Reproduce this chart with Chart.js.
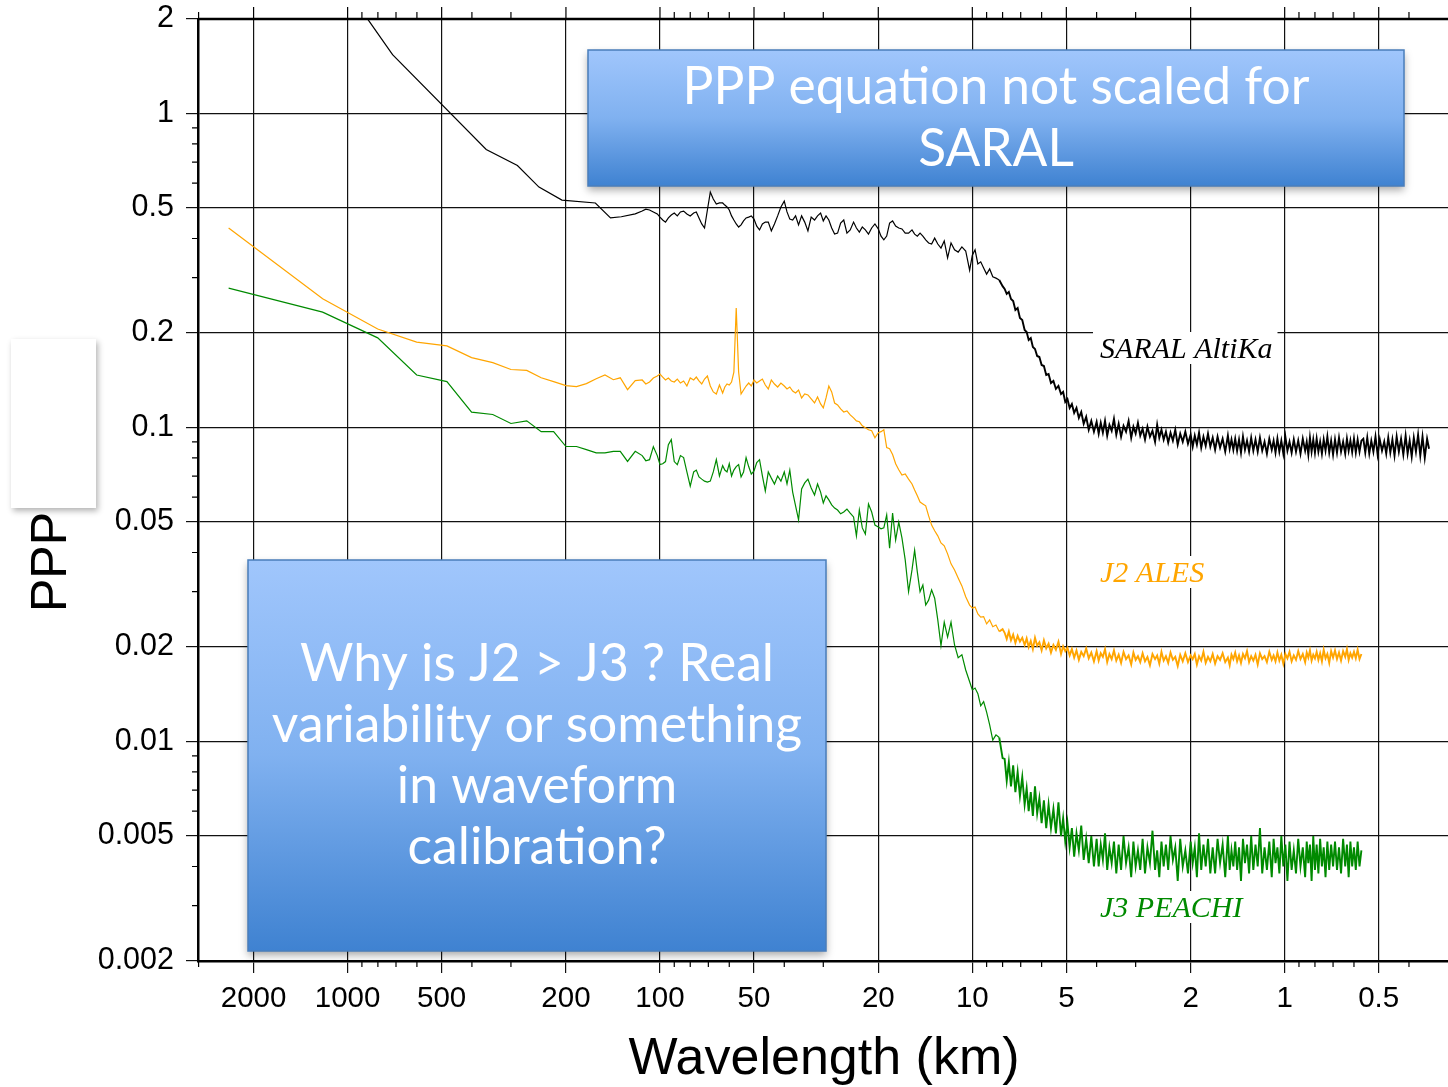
<!DOCTYPE html>
<html>
<head>
<meta charset="utf-8">
<title>PPP vs wavelength</title>
<script src="https://cdn.jsdelivr.net/npm/chart.js@4.4.1/dist/chart.umd.min.js"></script>
<style>
  html, body { margin: 0; padding: 0; background: #fff; }
  #wrap { position: relative; width: 1448px; height: 1087px; }
</style>
</head>
<body>
<div id="wrap"><canvas id="ppp"></canvas></div>
<script>
// wavelength grids (km)
const jasonLowWl = [2404, 1202, 801, 601, 481, 401, 343, 300, 267, 240, 219, 200, 185, 172, 160, 150, 141, 134, 127, 120];
const saralLowWl = [1060, 857, 718, 360, 286, 244, 206, 161, 144, 133, 120];
const midWl = [114, 111, 108, 105, 102, 100, 98, 96, 94, 92,
  90, 88, 86, 84, 82, 80, 78, 76.5, 75, 73.5,
  72, 70.5, 69, 67.5, 66, 64.5, 63, 62, 61, 60,
  59, 58, 57, 56, 55, 54, 53, 52, 51, 50,
  49, 48, 47, 46, 45, 44, 43, 42, 41, 40,
  39.2, 38.4, 37.6, 36.8, 36, 35.2, 34.4, 33.6, 32.8, 32,
  31.3, 30.6, 30, 29.4, 28.8, 28.2, 27.6, 27, 26.4, 25.8,
  25.2, 24.6, 24, 23.5, 23, 22.5, 22, 21.5, 21, 20.5,
  20, 19.6, 19.2, 18.8, 18.4, 18, 17.6, 17.2, 16.8, 16.4,
  16, 15.6, 15.3, 15, 14.7, 14.4, 14.1, 13.8, 13.5, 13.2,
  12.9, 12.6, 12.3, 12, 11.7, 11.4, 11.1, 10.8, 10.5, 10.2,
  10, 9.8, 9.6, 9.4, 9.2, 9, 8.8, 8.6, 8.4, 8.2,
  8];
const tailWl = [7.88, 7.76, 7.64, 7.52, 7.4, 7.28, 7.16, 7.04, 6.92, 6.8,
  6.7, 6.6, 6.5, 6.4, 6.3, 6.2, 6.1, 6, 5.9, 5.8,
  5.7, 5.6, 5.5, 5.4, 5.3, 5.2, 5.12, 5.04, 4.96, 4.88,
  4.8, 4.72, 4.64, 4.56, 4.48, 4.4, 4.32, 4.24, 4.16, 4.08,
  4, 3.94, 3.88, 3.82, 3.76, 3.7, 3.64, 3.58, 3.52, 3.46,
  3.4, 3.34, 3.28, 3.22, 3.16, 3.1, 3.05, 3, 2.95, 2.9,
  2.85, 2.8, 2.75, 2.7, 2.65, 2.6, 2.56, 2.52, 2.48, 2.44,
  2.4, 2.36, 2.32, 2.28, 2.24, 2.2, 2.16, 2.12, 2.08, 2.04,
  2, 1.97, 1.94, 1.91, 1.88, 1.85, 1.82, 1.79, 1.76, 1.73,
  1.7, 1.67, 1.64, 1.61, 1.58, 1.55, 1.52, 1.5, 1.48, 1.46,
  1.44, 1.42, 1.4, 1.38, 1.36, 1.34, 1.32, 1.3, 1.28, 1.26,
  1.24, 1.22, 1.2, 1.18, 1.16, 1.14, 1.12, 1.1, 1.085, 1.07,
  1.055, 1.04, 1.025, 1.01, 0.995, 0.98, 0.965, 0.95, 0.935, 0.92,
  0.905, 0.89, 0.875, 0.86, 0.85, 0.84, 0.83, 0.82, 0.81, 0.8,
  0.79, 0.78, 0.77, 0.76, 0.75, 0.74, 0.73, 0.72, 0.71, 0.7,
  0.69, 0.68, 0.67, 0.66, 0.65, 0.64, 0.632, 0.624, 0.616, 0.608,
  0.6, 0.592, 0.584, 0.576, 0.568];
const saralShortWl = [0.56, 0.552, 0.544, 0.536, 0.528, 0.52, 0.512, 0.504, 0.496, 0.488,
  0.48, 0.473, 0.466, 0.459, 0.452, 0.445, 0.438, 0.431, 0.424, 0.417,
  0.41, 0.404, 0.398, 0.392, 0.386, 0.38, 0.374, 0.368, 0.362, 0.356,
  0.35, 0.345];

// SARAL AltiKa
const saralLow = [2.67, 1.98, 1.54, 0.768, 0.683, 0.583, 0.530, 0.519, 0.465, 0.469, 0.479];
const saralMid = [.489, .496, .493, .486, .479, .468, .458, .451, .465, .475,
  .482, .472, .486, .489, .479, .472, .482, .486, .465, .445,
  .432, .493, .562, .534, .515, .519, .519, .511, .504, .493,
  .472, .458, .445, .435, .442, .455, .465, .468, .472, .461,
  .438, .426, .445, .451, .451, .423, .445, .472, .504, .526,
  .486, .461, .458, .472, .442, .472, .451, .423, .468, .458,
  .472, .482, .455, .472, .458, .432, .413, .416, .448, .458,
  .416, .426, .451, .432, .419, .435, .426, .413, .432, .445,
  .429, .407, .396, .407, .448, .455, .438, .432, .429, .416,
  .416, .426, .413, .407, .416, .407, .396, .387, .384, .401,
  .384, .373, .393, .347, .387, .368, .362, .376, .365, .317,
  .354, .368, .332, .337, .322, .308, .320, .302, .299, .295,
  .282];
const saralTail = [.2762, .2664, .2703, .2567, .2529, .2367, .2402, .2233, .2200, .2044,
  .2015, .1900, .1928, .1805, .1779, .1690, .1677, .1582, .1570, .1470,
  .1480, .1386, .1407, .1327, .1356, .1279, .1298, .1206, .1233, .1155,
  .1189, .1113, .1155, .1073, .1121, .1028, .1081, .0984, .1050, .0970,
  .1043, .0956, .1035, .0963, .1050, .0942, .1020, .0977, .1066, .0949,
  .1028, .0935, .1013, .0970, .1050, .0928, .1006, .0956, .1035, .0942,
  .0991, .0915, .1006, .0935, .0977, .0901, .1020, .0928, .0984, .0915,
  .0970, .0895, .0963, .0908, .0984, .0882, .0956, .0901, .0970, .0888,
  .0949, .0869, .0942, .0882, .0963, .0863, .0935, .0875, .0956, .0869,
  .0928, .0850, .0935, .0863, .0921, .0838, .0942, .0856, .0915, .0850,
  .0921, .0844, .0915, .0832, .0935, .0850, .0908, .0838, .0928, .0844,
  .0915, .0838, .0928, .0844, .0901, .0826, .0921, .0850, .0908, .0832,
  .0921, .0838, .0908, .0826, .0935, .0844, .0901, .0832, .0915, .0838,
  .0908, .0826, .0921, .0844, .0901, .0820, .0928, .0838, .0915, .0832,
  .0921, .0838, .0901, .0826, .0915, .0844, .0935, .0832, .0908, .0820,
  .0915, .0832, .0928, .0838, .0901, .0826, .0921, .0844, .0908, .0835,
  .0921, .0832, .0915, .0838, .0908];
const saralShort = [.0921, .0832, .0928, .0826, .0908, .0838, .0935, .0820, .0915, .0844,
  .0901, .0826, .0928, .0832, .0915, .0814, .0935, .0838, .0921, .0820,
  .0942, .0826, .0908, .0808, .0928, .0838, .0949, .0814, .0935, .0802,
  .0921, .0856];

// J2 ALES
const j2Low = [0.432, 0.257, 0.206, 0.187, 0.182, 0.167, 0.161, 0.153, 0.152, 0.144, 0.140, 0.136, 0.135, 0.138, 0.143, 0.147, 0.142, 0.144, 0.132, 0.141];
const j2Mid = [.1417, .1376, .1396, .1438, .1459, .1480, .1448, .1417, .1438, .1407,
  .1396, .1427, .1386, .1407, .1356, .1438, .1417, .1448, .1407, .1376,
  .1427, .1459, .1356, .1298, .1279, .1366, .1288, .1346, .1376, .1366,
  .1396, .1502, .2402, .1502, .1279, .1317, .1356, .1386, .1356, .1417,
  .1386, .1407, .1427, .1366, .1327, .1417, .1376, .1346, .1386, .1356,
  .1327, .1346, .1307, .1288, .1317, .1242, .1279, .1270, .1233, .1197,
  .1251, .1189, .1155, .1242, .1356, .1298, .1197, .1180, .1146, .1121,
  .1130, .1097, .1073, .1050, .1043, .1013, .0998, .0984, .0977, .0928,
  .0963, .0970, .0984, .0863, .0856, .0820, .0767, .0734, .0706, .0711,
  .0685, .0661, .0632, .0606, .0579, .0571, .0563, .0523, .0489, .0469,
  .0452, .0429, .0420, .0396, .0368, .0352, .0332, .0313, .0289, .0272,
  .0266, .0268, .0255, .0249, .0250, .0237, .0244, .0232, .0235, .0224,
  .0228];
const j2Tail = [.0222, .0212, .0224, .0210, .0219, .0206, .0217, .0208, .0214, .0203,
  .0213, .0200, .0209, .0197, .0214, .0202, .0207, .0195, .0210, .0198,
  .0205, .0192, .0203, .0196, .0208, .0190, .0201, .0194, .0199, .0188,
  .0197, .0185, .0195, .0182, .0193, .0187, .0198, .0184, .0192, .0180,
  .0194, .0181, .0191, .0186, .0197, .0179, .0190, .0183, .0195, .0181,
  .0189, .0178, .0193, .0183, .0188, .0176, .0192, .0182, .0187, .0179,
  .0191, .0180, .0186, .0175, .0190, .0183, .0188, .0177, .0193, .0181,
  .0187, .0178, .0192, .0182, .0186, .0174, .0189, .0180, .0191, .0179,
  .0188, .0183, .0190, .0176, .0187, .0181, .0193, .0178, .0186, .0180,
  .0190, .0177, .0187, .0182, .0191, .0179, .0185, .0175, .0189, .0183,
  .0192, .0180, .0188, .0178, .0190, .0184, .0194, .0179, .0187, .0181,
  .0189, .0176, .0191, .0183, .0187, .0179, .0193, .0182, .0188, .0180,
  .0192, .0181, .0189, .0177, .0190, .0184, .0193, .0180, .0188, .0182,
  .0194, .0183, .0190, .0179, .0192, .0185, .0195, .0181, .0189, .0184,
  .0193, .0182, .0191, .0180, .0196, .0184, .0190, .0178, .0194, .0185,
  .0195, .0183, .0192, .0181, .0194, .0186, .0197, .0182, .0191, .0185,
  .0193, .0184, .0196, .0183, .0190];

// J3 PEACHI
const j3Low = [0.278, 0.233, 0.193, 0.147, 0.140, 0.112, 0.110, 0.103, 0.105, 0.097, 0.097, 0.087, 0.087, 0.085, 0.083, 0.083, 0.084, 0.084, 0.078, 0.084];
const j3Mid = [.0814, .0784, .0790, .0869, .0814, .0762, .0767, .0779, .0882, .0915,
  .0779, .0762, .0814, .0802, .0722, .0651, .0722, .0732, .0696, .0685,
  .0675, .0670, .0675, .0722, .0790, .0701, .0756, .0732, .0722, .0767,
  .0701, .0732, .0751, .0762, .0696, .0722, .0802, .0751, .0711, .0727,
  .0773, .0790, .0701, .0628, .0722, .0690, .0661, .0701, .0675, .0722,
  .0661, .0732, .0623, .0563, .0508, .0637, .0666, .0685, .0642, .0610,
  .0661, .0623, .0575, .0606, .0588, .0567, .0554, .0546, .0531, .0538,
  .0550, .0534, .0519, .0452, .0546, .0479, .0458, .0571, .0538, .0489,
  .0482, .0476, .0479, .0527, .0413, .0534, .0438, .0500, .0445, .0379,
  .0300, .0352, .0407, .0347, .0300, .0315, .0272, .0282, .0304, .0286,
  .0244, .0202, .0240, .0215, .0240, .0203, .0185, .0189, .0169, .0155,
  .0146, .0148, .0142, .0130, .0134, .0124, .0113, .0101, .0105, .0103,
  .00886];
const j3Tail = [.0088, .0075, .0086, .0072, .0084, .0069, .0080, .0067, .0077, .0063,
  .0071, .0060, .0069, .0058, .0072, .0059, .0066, .0055, .0065, .0053,
  .0063, .0053, .0061, .0051, .0064, .0050, .0057, .0048, .0055, .0046,
  .0053, .0043, .0051, .0045, .0054, .0042, .0049, .0041, .0050, .0040,
  .0049, .0040, .0047, .0042, .0051, .0039, .0046, .0041, .0048, .0038,
  .0047, .0039, .0050, .0041, .0046, .0037, .0048, .0040, .0045, .0039,
  .0049, .0038, .0046, .0041, .0052, .0039, .0045, .0037, .0048, .0040,
  .0047, .0039, .0050, .0042, .0046, .0036, .0049, .0040, .0045, .0038,
  .0048, .0041, .0046, .0037, .0051, .0039, .0047, .0040, .0049, .0038,
  .0046, .0038, .0049, .0041, .0047, .0037, .0050, .0039, .0045, .0040,
  .0048, .0039, .0046, .0036, .0049, .0041, .0047, .0038, .0050, .0039,
  .0047, .0040, .0053, .0038, .0046, .0039, .0048, .0037, .0049, .0041,
  .0046, .0038, .0050, .0040, .0047, .0036, .0048, .0039, .0045, .0038,
  .0049, .0040, .0046, .0037, .0048, .0041, .0047, .0036, .0050, .0039,
  .0047, .0038, .0049, .0040, .0046, .0037, .0048, .0039, .0047, .0040,
  .0048, .0039, .0046, .0038, .0049, .0040, .0047, .0037, .0048, .0040,
  .0046, .0039, .0048, .0040, .0045];

// ticks
const xMajor = [2000, 1000, 500, 200, 100, 50, 20, 10, 5, 2, 1, 0.5];
const xMinor = [3000, 900, 800, 700, 600, 400, 300, 90, 80, 70, 60, 40, 30, 9, 8, 7, 6, 4, 3, 0.9, 0.8, 0.7, 0.6, 0.4];
const yMajor = [2, 1, 0.5, 0.2, 0.1, 0.05, 0.02, 0.01, 0.005, 0.002];
const yMinor = [0.9, 0.8, 0.7, 0.6, 0.4, 0.3, 0.09, 0.08, 0.07, 0.06, 0.04, 0.03, 0.009, 0.008, 0.007, 0.006, 0.004, 0.003];

function zip(wl, vals) {
  const n = Math.min(wl.length, vals.length);
  const out = [];
  for (let i = 0; i < n; i++) out.push({ x: wl[i], y: vals[i] });
  return out;
}

const saralPts = zip([...saralLowWl, ...midWl, ...tailWl, ...saralShortWl], [...saralLow, ...saralMid, ...saralTail, ...saralShort]);
const j2Pts = zip([...jasonLowWl, ...midWl, ...tailWl], [...j2Low, ...j2Mid, ...j2Tail]);
const j3Pts = zip([...jasonLowWl, ...midWl, ...tailWl], [...j3Low, ...j3Mid, ...j3Tail]);

const ORANGE = '#ffa500';
const GREEN = '#008a00';

// the dense short-wavelength noise looks heavier in the original
const denseTail = { borderWidth: ctx => (ctx.p1.parsed.x < 8.1 ? 1.9 : 1.2) };

function fitFont(ctx, text, target, family) {
  ctx.font = '100px ' + family;
  return 100 * target / ctx.measureText(text).width;
}

function blueBox(ctx, x, y, w, h, lines, widest, targetW, baselines, cx) {
  ctx.save();
  ctx.shadowColor = 'rgba(0,0,0,0.35)';
  ctx.shadowBlur = 8;
  ctx.shadowOffsetY = 4;
  const g = ctx.createLinearGradient(0, y, 0, y + h);
  g.addColorStop(0, '#a0c6fc');
  g.addColorStop(0.5, '#80b1f0');
  g.addColorStop(1, '#3f82d1');
  ctx.fillStyle = g;
  ctx.fillRect(x, y, w, h);
  ctx.restore();
  ctx.save();
  ctx.strokeStyle = '#4a7ebb';
  ctx.lineWidth = 1.5;
  ctx.strokeRect(x, y, w, h);
  const fam = 'Lato, "Open Sans", sans-serif';
  const size = fitFont(ctx, widest, targetW, fam);
  ctx.font = size.toFixed(1) + 'px ' + fam;
  ctx.fillStyle = '#fff';
  ctx.textAlign = 'center';
  ctx.textBaseline = 'alphabetic';
  lines.forEach((t, i) => ctx.fillText(t, cx, baselines[i]));
  ctx.restore();
}

function seriesLabel(ctx, text, x, baseline, color) {
  ctx.save();
  ctx.font = 'italic 30px "Liberation Serif", "Times New Roman", serif';
  const w = ctx.measureText(text).width;
  ctx.fillStyle = '#fff';
  ctx.fillRect(x - 7, baseline - 26, w + 12, 32);
  ctx.fillStyle = color;
  ctx.textBaseline = 'alphabetic';
  ctx.fillText(text, x, baseline);
  ctx.restore();
}

const framePlugin = {
  id: 'frame',
  beforeDatasetsDraw(chart) {
    const ctx = chart.ctx, a = chart.chartArea;
    const xs = chart.scales.x, ys = chart.scales.y;
    ctx.save();
    ctx.strokeStyle = '#000';
    ctx.lineWidth = 1.2;
    ctx.beginPath();
    xMinor.forEach(v => {
      const px = xs.getPixelForValue(v);
      ctx.moveTo(px, a.bottom); ctx.lineTo(px, a.bottom + 6);
      ctx.moveTo(px, a.top); ctx.lineTo(px, a.top - 7);
    });
    xMajor.forEach(v => {
      const px = xs.getPixelForValue(v);
      ctx.moveTo(px, a.top); ctx.lineTo(px, a.top - 12);
    });
    yMinor.forEach(v => {
      const py = ys.getPixelForValue(v);
      ctx.moveTo(a.left, py); ctx.lineTo(a.left - 6, py);
    });
    ctx.stroke();
    ctx.lineWidth = 2.5;
    ctx.beginPath();
    ctx.moveTo(a.left, a.top); ctx.lineTo(a.right, a.top);
    ctx.stroke();
    ctx.restore();
  },
  afterDraw(chart) {
    const ctx = chart.ctx;
    ctx.save();
    // axis titles
    ctx.fillStyle = '#000';
    ctx.font = '52px "Liberation Sans", Arial, sans-serif';
    ctx.textAlign = 'center';
    ctx.textBaseline = 'alphabetic';
    ctx.fillText('Wavelength (km)', 824, 1074);
    ctx.save();
    ctx.translate(66, 612);
    ctx.rotate(-Math.PI / 2);
    ctx.font = '50px "Liberation Sans", Arial, sans-serif';
    ctx.textAlign = 'left';
    ctx.fillText('PPP', 0, 0);
    ctx.restore();
    // white note on the left
    ctx.save();
    ctx.shadowColor = 'rgba(0,0,0,0.3)';
    ctx.shadowBlur = 6;
    ctx.shadowOffsetX = 2;
    ctx.shadowOffsetY = 3;
    ctx.fillStyle = '#fff';
    ctx.fillRect(11, 339, 85, 169);
    ctx.restore();
    ctx.restore();

    seriesLabel(ctx, 'SARAL AltiKa', 1100, 358, '#000');
    seriesLabel(ctx, 'J2 ALES', 1100, 582, ORANGE);
    seriesLabel(ctx, 'J3 PEACHI', 1100, 917, GREEN);

    blueBox(ctx, 588, 50, 816, 136,
      ['PPP equation not scaled for', 'SARAL'],
      'PPP equation not scaled for', 627, [104, 166], 996);
    blueBox(ctx, 248, 560, 578, 391,
      ['Why is J2 > J3 ? Real', 'variability or something', 'in waveform', 'calibration?'],
      'variability or something', 530, [681, 742, 803, 864], 537);
  }
};

const xTickFont = { family: '"Liberation Sans", Arial, sans-serif', size: 29.5 };
const yTickFont = { family: '"Liberation Sans", Arial, sans-serif', size: 30.5 };

new Chart(document.getElementById('ppp'), {
  type: 'line',
  data: {
    datasets: [
      { label: 'SARAL AltiKa', data: saralPts, borderColor: '#000', borderWidth: 1.2, segment: denseTail },
      { label: 'J2 ALES', data: j2Pts, borderColor: ORANGE, borderWidth: 1.2, segment: denseTail },
      { label: 'J3 PEACHI', data: j3Pts, borderColor: GREEN, borderWidth: 1.2, segment: denseTail }
    ]
  },
  options: {
    responsive: true,
    maintainAspectRatio: false,
    animation: false,
    events: [],
    layout: { padding: { top: 19, left: 0, right: 0, bottom: 0 } },
    elements: { point: { radius: 0 }, line: { tension: 0 } },
    plugins: { legend: { display: false }, tooltip: { enabled: false } },
    scales: {
      x: {
        type: 'logarithmic',
        reverse: true,
        min: 0.306,
        max: 3013,
        afterFit: s => { s.height = 126; s.paddingLeft = 0; s.paddingRight = 0; },
        afterBuildTicks: s => { s.ticks = xMajor.map(v => ({ value: v })); },
        ticks: {
          autoSkip: false, maxRotation: 0, color: '#000', font: xTickFont, padding: 8,
          callback: v => String(v)
        },
        grid: { color: '#111', lineWidth: 1.2, tickLength: 12, drawTicks: true },
        border: { color: '#000', width: 2.5 }
      },
      y: {
        type: 'logarithmic',
        min: 0.002,
        max: 2,
        afterFit: s => { s.width = 198; s.paddingTop = 0; s.paddingBottom = 0; },
        afterBuildTicks: s => { s.ticks = yMajor.map(v => ({ value: v })); },
        ticks: {
          autoSkip: false, color: '#000', font: yTickFont, padding: 12,
          callback: v => String(v)
        },
        grid: { color: '#111', lineWidth: 1.2, tickLength: 12, drawTicks: true },
        border: { color: '#000', width: 2.5 }
      }
    }
  },
  plugins: [framePlugin]
});
</script>
</body>
</html>
